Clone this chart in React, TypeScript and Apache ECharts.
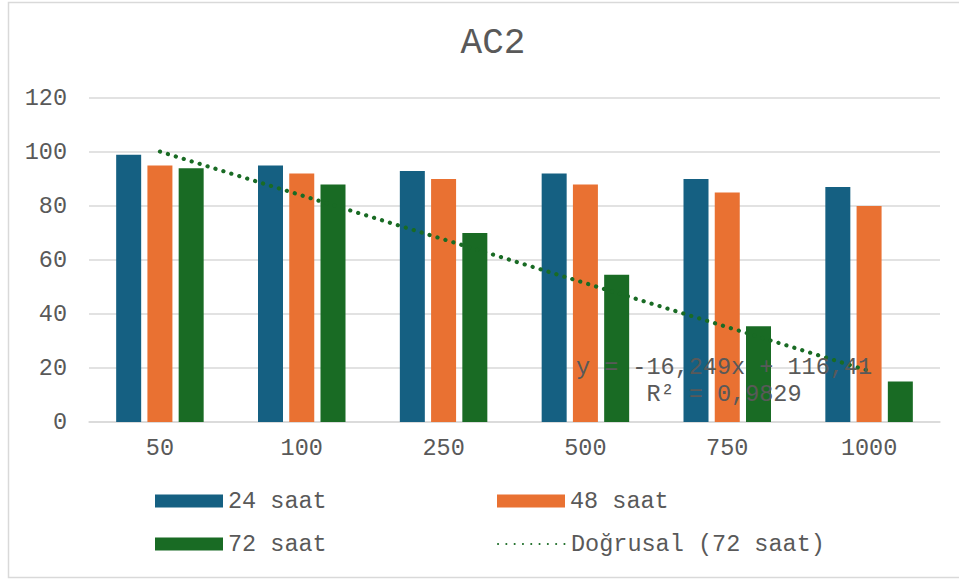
import React, { useEffect, useRef } from "react";
import * as echarts from "echarts";

const categories = ["50", "100", "250", "500", "750", "1000"];
const series24 = [99, 95, 93, 92, 90, 87];
const series48 = [95, 92, 90, 88, 85, 80];
const series72 = [94, 88, 70, 54.5, 35.5, 15];
// Linear trendline of "72 saat": y = -16,249x + 116,41 evaluated at x = 1..6
const trend72 = [100.16, 83.91, 67.66, 51.41, 35.17, 18.92];
const yTicks = { min: 0, max: 120, interval: 20 };
const trendLabel = "y = -16,249x + 116,41\nR² = 0,9829";

const FONT = "'Liberation Mono', 'DejaVu Sans Mono', monospace";
const TXT = "#595959";

export default function App() {
  const ref = useRef<HTMLDivElement>(null);
  useEffect(() => {
    if (!ref.current) return;
    const chart = echarts.init(ref.current, undefined, { renderer: "svg" });
    const legendText = { fontFamily: FONT, fontSize: 23.5, color: TXT };
    const mkLegend = (item: any, left: number, top: number) => ({
      data: [item],
      left,
      top,
      orient: "horizontal",
      itemWidth: 68,
      itemHeight: 13,
      textStyle: legendText,
      selectedMode: false,
    });
    chart.setOption({
      animation: false,
      backgroundColor: "#ffffff",
      title: {
        text: "AC2",
        left: 488,
        top: 20,
        textAlign: "center",
        textStyle: { fontFamily: FONT, fontSize: 36, fontWeight: "normal", color: TXT },
      },
      legend: [
        mkLegend({ name: "24 saat", icon: "rect" }, 150, 484),
        mkLegend({ name: "48 saat", icon: "rect" }, 492, 484),
        mkLegend({ name: "72 saat", icon: "rect" }, 150, 527),
        mkLegend(
          { name: "Doğrusal (72 saat)", itemStyle: { opacity: 0 } },
          492,
          527
        ),
      ],
      grid: { left: 89, right: 19, top: 98, bottom: 159, containLabel: false },
      xAxis: {
        type: "category",
        data: categories,
        boundaryGap: true,
        axisTick: { show: false },
        axisLine: { lineStyle: { color: "#d9d9d9", width: 1.5 } },
        axisLabel: { fontFamily: FONT, fontSize: 23.5, color: TXT, margin: 14, interval: 0 },
      },
      yAxis: {
        type: "value",
        min: yTicks.min,
        max: yTicks.max,
        interval: yTicks.interval,
        axisLine: { show: false },
        axisTick: { show: false },
        splitLine: { lineStyle: { color: "#d9d9d9", width: 1.5 } },
        axisLabel: { fontFamily: FONT, fontSize: 23.5, color: TXT, margin: 22 },
      },
      series: [
        {
          name: "24 saat",
          type: "bar",
          data: series24,
          barWidth: 25,
          barGap: "25%",
          itemStyle: { color: "#156082" },
        },
        {
          name: "48 saat",
          type: "bar",
          data: series48,
          barWidth: 25,
          barGap: "25%",
          itemStyle: { color: "#E97132" },
        },
        {
          name: "72 saat",
          type: "bar",
          data: series72,
          barWidth: 25,
          barGap: "25%",
          itemStyle: { color: "#196B24" },
        },
        {
          name: "Doğrusal (72 saat)",
          type: "line",
          data: trend72,
          symbol: "none",
          z: 5,
          lineStyle: { color: "#196B24", width: 4.2, type: [0.1, 8.2], cap: "round" },
          itemStyle: { color: "#196B24" },
        },
      ],
      graphic: [
        {
          type: "rect",
          shape: { x: 8.5, y: 2.5, width: 960, height: 575 },
          style: { fill: "none", stroke: "#d9d9d9", lineWidth: 1.5 },
          silent: true,
          z: -10,
        },
        {
          type: "text",
          x: 724,
          y: 354,
          z: 100,
          style: {
            text: trendLabel,
            fontFamily: FONT,
            fontSize: 23.5,
            lineHeight: 27,
            fill: TXT,
            textAlign: "center",
          },
        },
      ],
    });
    return () => chart.dispose();
  }, []);
  return (
    <div
      ref={ref}
      style={{ position: "absolute", left: 0, top: 0, width: 959, height: 581 }}
    />
  );
}
